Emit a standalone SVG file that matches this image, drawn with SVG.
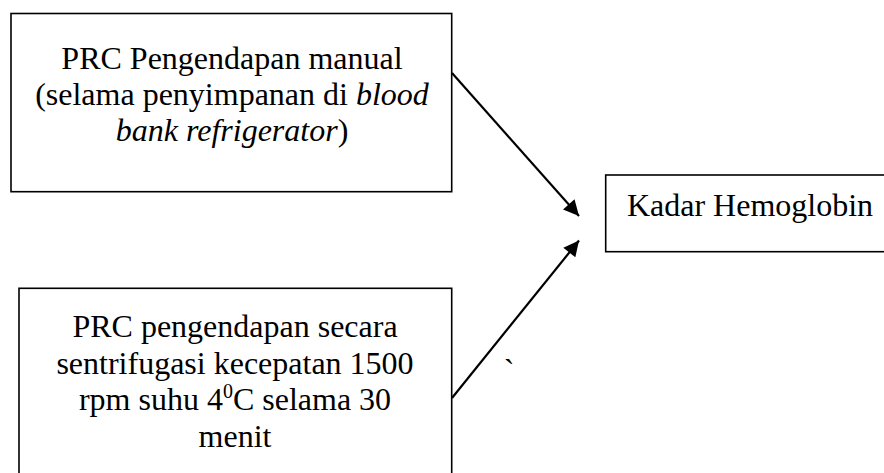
<svg xmlns="http://www.w3.org/2000/svg" width="884" height="473" viewBox="0 0 884 473">
<style>
  .box { fill: #ffffff; stroke: #000000; stroke-width: 1.6; }
  .t { font-family: "Liberation Serif", "Times New Roman", serif; font-size: 32px; fill: #000000; text-anchor: middle; }
  .i { font-style: italic; }
  .conn { stroke: #000000; stroke-width: 2.2; fill: none; marker-end: url(#arrow); }
</style>
<defs>
  <marker id="arrow" viewBox="0 0 10 10" refX="10" refY="5" markerWidth="8" markerHeight="7" markerUnits="strokeWidth" orient="auto">
    <path d="M0,0 L10,5 L0,10 z" fill="#000000"/>
  </marker>
</defs>
<rect width="884" height="473" fill="#ffffff"/>
<g id="node-manual">
  <rect class="box" x="11" y="13.5" width="440.7" height="178.2"/>
  <text class="t" x="232" y="69">PRC Pengendapan manual</text>
  <text class="t" x="232" y="105">(selama penyimpanan di <tspan class="i">blood</tspan></text>
  <text class="t" x="232" y="141"><tspan class="i">bank refrigerator</tspan>)</text>
</g>
<g id="node-sentrifugasi">
  <rect class="box" x="19" y="288.3" width="432.7" height="200"/>
  <text class="t" x="235" y="337">PRC pengendapan secara</text>
  <text class="t" x="235" y="373.5">sentrifugasi kecepatan 1500</text>
  <text class="t" x="235" y="410">rpm suhu 4<tspan font-size="20" dy="-12">0</tspan><tspan dy="12">C selama 30</tspan></text>
  <text class="t" x="235" y="446.5">menit</text>
</g>
<g id="node-hemoglobin">
  <rect class="box" x="605.7" y="175" width="290" height="76.7"/>
  <text class="t" x="750" y="215.7">Kadar Hemoglobin</text>
</g>
<g id="connectors">
  <line class="conn" x1="452" y1="73" x2="579" y2="216"/>
  <line class="conn" x1="452" y1="398" x2="579" y2="240.5"/>
</g>
<text class="t" x="509" y="381">`</text>
</svg>
